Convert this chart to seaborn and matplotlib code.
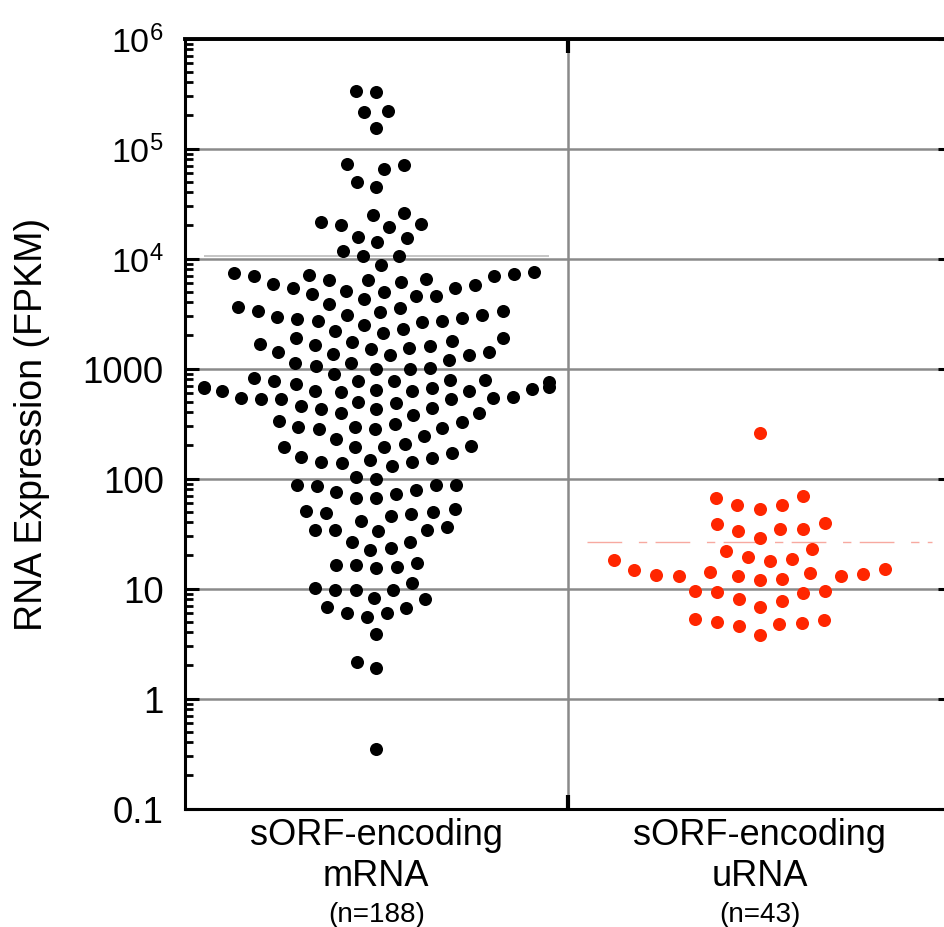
import numpy as np
import matplotlib
matplotlib.use("Agg")
import matplotlib.pyplot as plt
import seaborn as sns

# categories on the x axis
categories = ["sORF-encoding\nmRNA", "sORF-encoding\nuRNA"]

# FPKM values, row by row from the top
mrna_fpkm = [
    323000, 330000, 217000, 214000, 155000,
    71000, 64900, 72000, 44500, 50100,
    24900, 20500, 19400, 25800, 20200, 21400,
    14000, 15300, 15800, 10500, 10500, 11800,
    8750,
    7460, 7160, 6950, 6490, 6350, 5840, 5370, 5070, 4710, 4910, 5370, 5800, 6130, 6350, 6900, 7050, 7350,
    4570, 4260, 4540,
    3590, 3300, 3250, 3050, 2890, 2820, 2910, 3070, 3300, 3560, 3820,
    2710, 2490, 2170, 1880, 1780, 1670, 1730, 1880, 2090, 2280, 2620, 2730,
    1640, 1530, 1400, 1360, 1330, 1330, 1400, 1500, 1600,
    1130, 1060, 1000, 1010, 1120, 1190,
    990, 900,
    817, 784, 771, 746, 686, 662, 653, 626, 622, 644, 662, 686, 720, 771, 771, 787,
    626, 541, 537, 526, 491, 457, 424, 398, 378, 394, 424, 436, 483, 523, 533, 545, 612, 626,
    334, 316, 291, 281, 241, 228, 281, 285, 295, 323,
    198, 195, 170, 154, 142, 138, 130, 141, 147, 156, 195, 195, 208,
    100, 86.9, 85.1, 75.0, 72.4, 78.3, 86.9, 87.5, 103,
    65.8, 66.2,
    50.7, 48.6, 45.2, 40.9, 47.6, 49.7, 52.6,
    33.7, 33.7, 26.7, 23.4, 22.6, 26.4, 33.0, 33.7, 36.1,
    16.5, 15.6, 15.3, 16.2, 16.9,
    11.3,
    10.1, 9.66, 8.17, 6.72, 5.93, 6.66, 8.0, 5.52, 9.66, 6.05, 9.79,
    3.85, 2.15, 1.90, 0.351,
]

urna_fpkm = [
    258,
    57.5, 52.9, 66.2, 69.0, 57.2,
    34.8, 33.0, 38.2, 39.0, 34.6,
    28.5, 22.8, 21.7,
    18.4, 17.8, 14.8, 13.9, 13.3, 13.0, 12.3, 11.9, 12.9, 13.0, 13.5, 14.1, 15.0, 18.2, 19.3,
    9.44, 9.06, 7.62, 6.81, 8.0, 9.2, 9.44,
    5.15, 4.81, 4.54, 3.76, 4.77, 5.01, 5.33,
]

dot_colors = ["#000000", "#FF2600"]
ytick_values = [0.1, 1, 10, 100, 1000, 1e4, 1e5, 1e6]
ytick_labels = ["0.1", "1", "10", "100", "1000", "$10^4$", "$10^5$", "$10^6$"]

sns.set_style("white")
plt.rcParams["font.family"] = ["Liberation Sans", "DejaVu Sans"]
plt.rcParams["mathtext.fontset"] = "custom"
plt.rcParams["mathtext.rm"] = "Liberation Sans"
plt.rcParams["mathtext.it"] = "Liberation Sans:italic"
plt.rcParams["mathtext.bf"] = "Liberation Sans:bold"
for key in ["text.color", "axes.labelcolor", "xtick.color", "ytick.color"]:
    plt.rcParams[key] = "black"

fig = plt.figure(figsize=(9.44, 9.28), dpi=100)
# right edge of the plot area runs a little past the picture, like the original
rect = [184.5 / 944, (928 - 809.5) / 928, 767 / 944, 770 / 928]
ax = fig.add_axes(rect)
ax.set_yscale("log")
ax.set_xlim(-0.5, 1.5)
ax.set_ylim(0.1, 1e6)

# each swarm gets its own overlay axes so it may spread to 0.45 of the
# category spacing (seaborn stops at 0.4); x=0 there sits on category i
stretch = 0.45 / 0.4
layout_sizes = [14, 15.5]  # dot size used for spacing the swarm
for i, values in enumerate([mrna_fpkm, urna_fpkm]):
    sax = fig.add_axes(rect, label=f"swarm{i}")
    sns.swarmplot(y=values, color=dot_colors[i], size=layout_sizes[i], linewidth=0,
                  log_scale=True, warn_thresh=1, ax=sax)
    left = -(i + 0.5) / stretch
    sax.set_xlim(left, left + 2 / stretch)
    sax.set_ylim(0.1, 1e6)
    sax.set_axis_off()

fig.canvas.draw()
for sax in fig.axes[1:]:
    for coll in sax.collections:
        coll.set_sizes([9.4 ** 2])
        if "draw" in coll.__dict__:
            del coll.draw  # keep the positions from the first layout

# mean lines
mean_styles = [
    dict(color="#b5b5b5", lw=1.1, ls="-"),
    dict(color="#f7a9a0", lw=1.0, ls=(0, (25, 12, 6, 6))),
]
for i, values in enumerate([mrna_fpkm, urna_fpkm]):
    ax.hlines(np.mean(values), i - 0.45, i + 0.45, zorder=2, **mean_styles[i])

# grid and divider
ax.set_axisbelow(True)
ax.yaxis.grid(True, which="major", color="#8a8a8a", lw=1.8)
ax.xaxis.grid(False)
ax.axvline(0.5, color="#8a8a8a", lw=1.8, zorder=0)

# y ticks
ax.set_yticks(ytick_values, labels=ytick_labels)
ax.yaxis.set_minor_locator(matplotlib.ticker.LogLocator(base=10, subs=np.arange(2, 10), numticks=20))
ax.yaxis.set_minor_formatter(matplotlib.ticker.NullFormatter())
ax.tick_params(axis="y", which="major", direction="in", length=10, width=2.2,
               left=True, right=True, labelsize=26.5, pad=15)
ax.tick_params(axis="y", which="minor", direction="in", length=6, width=2,
               left=True, right=False)
for lab in ax.get_yticklabels():
    if lab.get_text().startswith("$"):
        lab.set_fontsize(24.5)

# x ticks
ax.set_xticks([0, 1], labels=categories)
ax.set_xticks([0.5], minor=True)
ax.tick_params(axis="x", which="major", length=0, labelsize=26, pad=6)
ax.tick_params(axis="x", which="minor", direction="in", length=10, width=3,
               top=True, bottom=True)
for lab in ax.get_xticklabels():
    lab.set_linespacing(1.22)

for i, values in enumerate([mrna_fpkm, urna_fpkm]):
    ax.annotate(f"(n={len(values)})", xy=(i, 0), xycoords=("data", "axes fraction"),
                xytext=(0, -81), textcoords="offset points", ha="center",
                va="baseline", fontsize=20)

for s in ax.spines.values():
    s.set_color("black")
    s.set_linewidth(2.2)
ax.spines["top"].set_linewidth(2.8)

ax.set_xlabel("")
ax.set_ylabel("RNA Expression (FPKM)", fontsize=27)
ax.yaxis.set_label_coords((50 - 184.5) / 767, 0.5)

fig.savefig("out.png", dpi=100)
